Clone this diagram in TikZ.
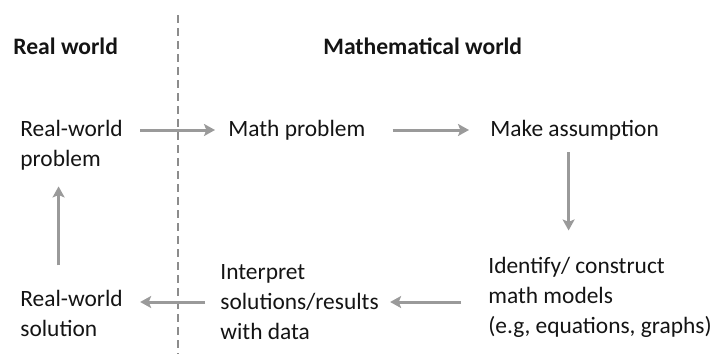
\documentclass[tikz,border=0pt]{standalone}
\usepackage{fontspec}
\setmainfont{Carlito}
\usetikzlibrary{arrows.meta,positioning}
\definecolor{txt}{HTML}{141414}
\definecolor{arrgray}{HTML}{9A9A9A}
\definecolor{dashgray}{HTML}{8C8C8C}

\begin{document}
\begin{tikzpicture}[x=0.5pt,y=-0.5pt,
  every node/.style={font=\fontsize{11.7}{15}\selectfont,text=txt,align=left,anchor=west,inner sep=0pt},
  head/.style={font=\fontsize{11.8}{15}\selectfont\bfseries},
  arr/.style={draw=arrgray,line width=1.5pt,-{Stealth[length=5.5pt,width=6pt,inset=1.2pt]}},
  >=Stealth]
\useasboundingbox (0,0) rectangle (718,354);
\coordinate (top) at (178,15);
\coordinate (bot) at (178,354);
\draw[dashgray,line width=1pt,dash pattern=on 4pt off 2.5pt] (top)--(bot);
\node[head] (rw) at (13,46) {Real world};
\node[head] (mw) at (323,46) {Mathematical world};
\node (rwp) at (20,145) {Real-world\\problem};
\node (mp) at (228,130) {Math problem};
\node (ma) at (490,130) {Make assumption};
\node (id) at (488,297) {Identify/ construct\\math models\\(e.g, equations, graphs)};
\node (ip) at (220,302) {Interpret\\solutions/results\\with data};
\node (rws) at (20,313) {Real-world\\solution};
\draw[arr,shorten <=8.5pt,shorten >=6.5pt] (mp.west -| rwp.east)--(mp.west);
\draw[arr,shorten <=13.5pt,shorten >=10.5pt] (mp.east)--(ma.west);
\draw[arr,shorten <=6pt,shorten >=13pt] ([xshift=-3pt]ma.south)--([xshift=-3pt]ma.south |- id.north);
\draw[arr,shorten <=13.5pt,shorten >=5.5pt] (id.west |- ip.east)--(ip.east);
\draw[arr,shorten <=7.5pt,shorten >=8.5pt] (ip.west)--(ip.west -| rws.east);
\draw[arr,shorten <=12pt,shorten >=8pt] ([xshift=-6.5pt]rws.north)--([xshift=-6.5pt]rwp.south);
\end{tikzpicture}
\end{document}
